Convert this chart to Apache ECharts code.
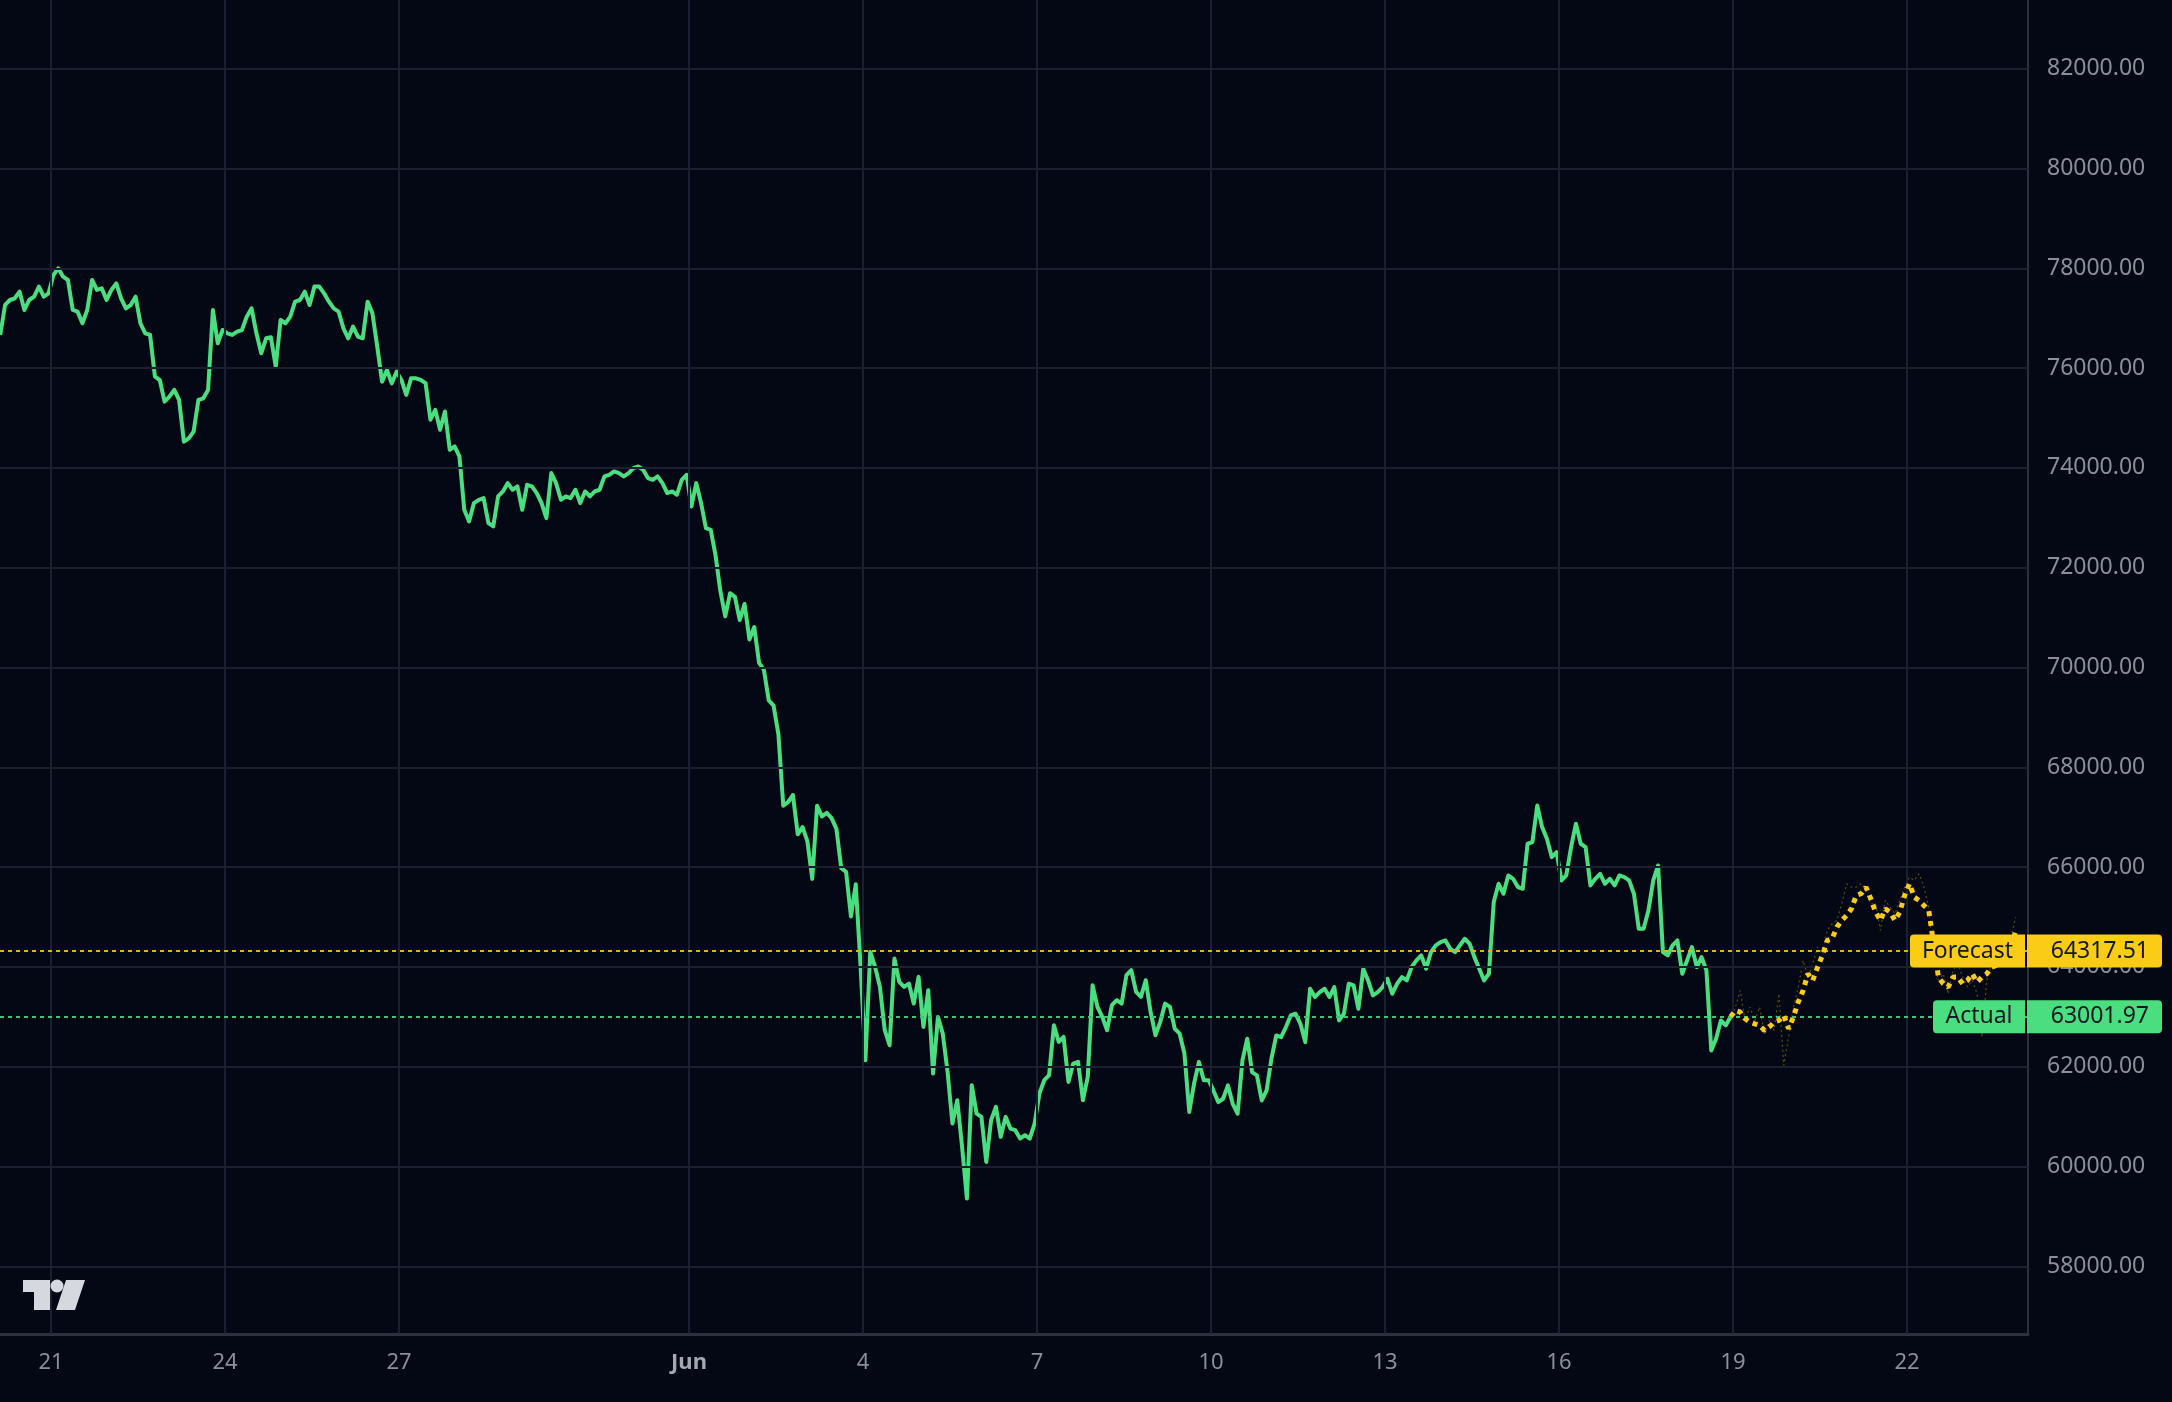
<!DOCTYPE html>
<html>
<head>
<meta charset="utf-8">
<script src="https://cdn.jsdelivr.net/npm/echarts@6/dist/echarts.min.js"></script>
<style>
html,body{margin:0;padding:0;background:#040814;}
#chart{width:2172px;height:1402px;}
</style>
</head>
<body>
<div id="chart"></div>
<script>
// ---- time base: day-of-month scale (May 21 = 21, Jun 1 = 32), 2-hour steps ----
const startDay = 20.125;      // May 20, 03:00
const stepDay = 1 / 12;       // 2 hours

// ---- actual price (BTC/USD), 2-hour samples ----
const actualPrices = [
  76664, 77265, 77365, 77399, 77532, 77165, 77365, 77432, 77633, 77432,
  77499, 77866, 78000, 77833, 77766, 77165, 77132, 76898, 77165, 77766,
  77566, 77599, 77365, 77566, 77699, 77399, 77198, 77265, 77432, 76898,
  76697, 76664, 75829, 75762, 75328, 75428, 75562, 75361, 74526, 74593,
  74727, 75361, 75395, 75562, 77165, 76497, 76764, 76697, 76664, 76731,
  76764, 77031, 77198, 76697, 76297, 76597, 76617, 76029, 76965, 76898,
  77031, 77332, 77365, 77532, 77265, 77633, 77633, 77499, 77332, 77198,
  77132, 76798, 76597, 76831, 76631, 76597, 77332, 77098, 76430, 75729,
  75963, 75695, 75929, 75762, 75462, 75796, 75796, 75762,
  75699, 74965, 75165, 74764, 75132, 74363, 74430, 74230, 73161, 72927,
  73295, 73361, 73395, 72894, 72827, 73428, 73528, 73695, 73562, 73629,
  73161, 73662, 73629, 73495, 73295, 72994, 73896, 73695, 73361, 73428,
  73395, 73562, 73295, 73528, 73428, 73528, 73562, 73829, 73862, 73929,
  73896, 73829, 73896, 73996, 74029, 73963, 73796, 73762, 73829, 73695,
  73495, 73528, 73462, 73762, 73862, 73228, 73695, 73295, 72794, 72760,
  72240, 71525, 71024, 71489, 71417, 70952, 71274, 70559, 70810, 70092,
  69950, 69341, 69235, 68661, 67230, 67302, 67445, 66657, 66801, 66515,
  65764, 67230, 67016, 67086, 66980, 66765, 65978, 65906, 65012, 65656,
  64010,
  62130, 64301, 64000, 63599, 62731, 62430, 64167, 63699, 63599, 63666,
  63265, 63800, 62798, 63532, 61862, 62998, 62664, 61896, 60860, 61328,
  60393, 59357, 61629, 61061, 60994, 60092, 60927, 61194, 60593, 60994,
  60760, 60727, 60560, 60627, 60560, 60860, 61462, 61729, 61829, 62831,
  62497, 62597, 61695, 62063, 62096, 61328, 61796, 63633, 63198, 62998,
  62731, 63232, 63332, 63265, 63833, 63933, 63499, 63399, 63733, 63098,
  62631, 62898, 63265, 63198, 62764, 62664, 62263, 61094, 61662, 62096,
  61729, 61729,
  61524, 61291, 61357, 61625, 61257, 61057, 62126, 62560, 61892, 61825,
  61324, 61524, 62159, 62627, 62593, 62794, 63027, 63061, 62860, 62493,
  63562, 63395, 63495, 63562, 63395, 63595, 62927, 63061, 63662, 63629,
  63161, 63963, 63729, 63428, 63495, 63595, 63762, 63462, 63662, 63796,
  63729, 63996, 64130, 64230, 63963, 64297, 64430, 64497, 64530, 64363,
  64297, 64430, 64564, 64464, 64196, 63963, 63729, 63862, 65299, 65666,
  65466, 65833, 65766, 65599, 65566, 66468, 66501, 67236, 66802, 66568,
  66200, 66301, 65733, 65833, 66401, 66870, 66468, 66401, 65633, 65766,
  65866, 65666, 65766, 65633, 65833, 65800, 65733, 65466, 64764, 64764,
  65132, 65733, 66033, 64297, 64230, 64430, 64530, 63862, 64130, 64397,
  63996, 64196, 63929, 62326, 62560, 62927, 62827,
  63001.97
];

// ---- forecast (2-hour samples, starting at the last actual point) ----
const forecastStartIndex = 358;
const forecastPrices = [
  63001.97, 63128, 63094, 62961, 62894, 62860, 62827, 62727, 62794, 62894,
  62927, 63027, 62760, 62994, 63295, 63528, 63862, 63729, 63996, 64230,
  64530, 64564, 64798, 64931, 65031, 65165, 65432, 65466, 65599, 65365,
  65098, 64931, 65165, 65098, 64931, 65098, 65432, 65666, 65399, 65332,
  65232, 65132, 64464, 63796, 63662, 63595, 63796, 63796, 63662, 63729,
  63862, 63695, 63796, 63862, 63996, 64029, 64096, 64130, 64400, 64720
];
const forecastRaw = [
  62927, 63194, 63528, 62927, 63194, 62927, 63194, 62660, 62927, 62727,
  63462, 62026, 62593, 63194, 63595, 64130, 63796, 64063, 64397, 64263,
  64731, 64864, 64931, 65265, 65666, 65599, 65599, 65666, 65532, 65265,
  65265, 64731, 65332, 65198, 65065, 65332, 65599, 65800, 65733, 65866,
  65599, 65198, 64130, 63729, 63862, 63462, 63929, 64063, 63796, 63595,
  63729, 63462, 62593, 63729, 64063, 64130, 64263, 64397, 64597, 64998
];

// ---- reference levels ----
const forecastLevel = 64317.51;
const actualLevel = 63001.97;

// ---- axes ----
const xTickDays = [21, 24, 27, 32, 35, 38, 41, 44, 47, 50, 53];
const yTickValues = [58000, 60000, 62000, 64000, 66000, 68000, 70000, 72000, 74000, 76000, 78000, 80000, 82000];
const xMin = 20.1207, xMax = 55.086;
const yMin = 56643, yMax = 83377;

function toPairs(arr, offset) {
  return arr.map((v, i) => [startDay + (offset + i) * stepDay, v]);
}

const gridColor = '#1b2030';
const labelColor = '#8b8f9a';
const fontFam = '"Noto Sans", "Open Sans", sans-serif';

const chart = echarts.init(document.getElementById('chart'));

const gridMarks = [];
xTickDays.forEach(d => gridMarks.push({ xAxis: d }));
yTickValues.forEach(v => gridMarks.push({ yAxis: v }));

chart.setOption({
  animation: false,
  backgroundColor: '#040814',
  grid: { left: 0, top: 0, right: 144, bottom: 68, containLabel: false, outerBoundsMode: 'none' },
  xAxis: {
    type: 'value', min: xMin, max: xMax,
    splitLine: { show: false },
    axisTick: { show: false },
    axisLine: { show: true, lineStyle: { color: '#2c3140', width: 3 } },
    axisLabel: {
      customValues: xTickDays,
      color: labelColor, fontSize: 22, fontFamily: fontFam, margin: 18,
      formatter: v => v === 32 ? '{m|Jun}' : String(v > 31 ? v - 31 : v),
      rich: { m: { color: '#a4a8b2', fontSize: 22, fontWeight: 'bold', fontFamily: fontFam } }
    }
  },
  yAxis: {
    type: 'value', position: 'right', min: yMin, max: yMax, scale: true,
    splitLine: { show: false },
    axisTick: { show: false },
    axisLine: { show: true, lineStyle: { color: '#2c3140', width: 2 } },
    axisLabel: {
      customValues: yTickValues,
      color: labelColor, fontSize: 23, fontFamily: fontFam, margin: 19, align: 'left',
      formatter: v => v.toFixed(2)
    }
  },
  series: [
    {
      name: 'grid', type: 'line', data: [[xMin, yMin]], showSymbol: false, silent: true,
      lineStyle: { opacity: 0 }, z: 1,
      markLine: {
        silent: true, symbol: ['none', 'none'], label: { show: false },
        lineStyle: { color: gridColor, width: 2, type: 'solid' },
        data: gridMarks
      }
    },
    {
      name: 'levels', type: 'line', data: [[xMin, yMin]], showSymbol: false, silent: true,
      lineStyle: { opacity: 0 }, z: 2,
      markLine: {
        silent: true, symbol: ['none', 'none'], label: { show: false },
        data: [
          { yAxis: forecastLevel, lineStyle: { color: '#e0b318', width: 2, type: [4, 4] } },
          { yAxis: actualLevel, lineStyle: { color: '#3fc27a', width: 2, type: [4, 4] } }
        ]
      }
    },
    {
      name: 'Actual', type: 'line', data: toPairs(actualPrices, 0),
      showSymbol: false, z: 3,
      lineStyle: { color: '#4ade80', width: 4, join: 'round' }
    },
    {
      name: 'Forecast raw', type: 'line', data: toPairs(forecastRaw, forecastStartIndex),
      showSymbol: false, z: 4,
      lineStyle: { color: '#facc15', width: 1.2, opacity: 0.35, type: [2, 3] }
    },
    {
      name: 'Forecast', type: 'line', data: toPairs(forecastPrices, forecastStartIndex),
      showSymbol: false, z: 5,
      lineStyle: { color: '#facc15', width: 5, type: [5, 5] }
    }
  ]
});

// ---- price labels on the right, placed through the y scale ----
const yF = chart.convertToPixel({ yAxisIndex: 0 }, forecastLevel);
const yA = chart.convertToPixel({ yAxisIndex: 0 }, actualLevel);
const boxH = 33;
function tag(name, value, y, color, nameLeft) {
  return [
    { type: 'rect', z: 100, shape: { x: nameLeft, y: y - boxH / 2, width: 2025 - nameLeft, height: boxH, r: [4, 0, 0, 4] }, style: { fill: color } },
    { type: 'rect', z: 100, shape: { x: 2027, y: y - boxH / 2, width: 135, height: boxH, r: [0, 4, 4, 0] }, style: { fill: color } },
    { type: 'text', z: 101, x: (nameLeft + 2025) / 2, y: y, style: { text: name, fill: '#131722', font: '23px ' + fontFam, align: 'center', verticalAlign: 'middle' } },
    { type: 'text', z: 101, x: 2149, y: y, style: { text: value, fill: '#131722', font: '23px ' + fontFam, align: 'right', verticalAlign: 'middle' } }
  ];
}
const logo = [
  { type: 'rect', z: 100, shape: { x: 23, y: 1280, width: 27, height: 12 }, style: { fill: '#d6d8e0' } },
  { type: 'rect', z: 100, shape: { x: 34, y: 1280, width: 16, height: 30 }, style: { fill: '#d6d8e0' } },
  { type: 'circle', z: 100, shape: { cx: 57, cy: 1286, r: 6.5 }, style: { fill: '#d6d8e0' } },
  { type: 'polygon', z: 100, shape: { points: [[66, 1280], [85, 1280], [75, 1310], [56, 1310]] }, style: { fill: '#d6d8e0' } }
];
chart.setOption({
  graphic: [].concat(
    tag('Forecast', forecastLevel.toFixed(2), yF, '#facc15', 1910),
    tag('Actual', actualLevel.toFixed(2), yA, '#4ade80', 1933),
    logo
  )
});
</script>
</body>
</html>
